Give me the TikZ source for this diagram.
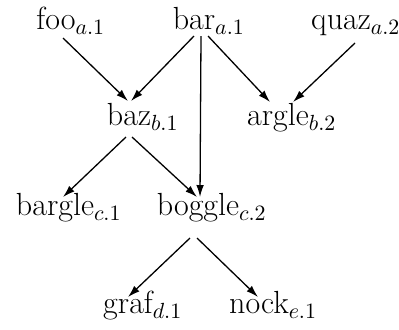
\documentclass[tikz,border=0pt]{standalone}
\usetikzlibrary{arrows.meta}
\begin{document}
% one unit = 0.5pt, y grows downward
\begin{tikzpicture}[x=0.5pt,y=-0.5pt,
  lbl/.style={anchor=base,inner sep=0pt,font=\fontsize{16}{19}\selectfont},
  edge/.style={line width=0.65pt,-{Latex[length=6pt,width=3.8pt]}}]
\useasboundingbox (0,0) rectangle (399,329);
% words are centred on the main text; subscripts hang to the right
\node[lbl] (foo)    at (56,29)   {foo\rlap{$_{a.1}$}};
\node[lbl] (bar)    at (194,29)  {bar\rlap{$_{a.1}$}};
\node[lbl] (quaz)   at (341,29)  {quaz\rlap{$_{a.2}$}};
\node[lbl] (baz)    at (129,125) {baz\rlap{$_{b.1}$}};
\node[lbl] (argle)  at (278,125) {argle\rlap{$_{b.2}$}};
\node[lbl] (bargle) at (55,215)  {bargle\rlap{$_{c.1}$}};
\node[lbl] (boggle) at (198,215) {boggle\rlap{$_{c.2}$}};
\node[lbl] (graf)   at (128,313) {graf\rlap{$_{d.1}$}};
\node[lbl] (nock)   at (259,313) {nock\rlap{$_{e.1}$}};
% dependencies
\draw[edge] ([shift={(7,9)}]foo.base)    -- ([shift={(-1,-24)}]baz.base);
\draw[edge] ([shift={(0,7)}]bar.base)    -- ([shift={(2,-24)}]baz.base);
\draw[edge] ([shift={(7,7)}]bar.base)    -- ([shift={(2,-18)}]boggle.base);
\draw[edge] ([shift={(14,7)}]bar.base)   -- ([shift={(-8,-23)}]argle.base);
\draw[edge] ([shift={(14,14)}]quaz.base) -- ([shift={(15,-23)}]argle.base);
\draw[edge] ([shift={(-3,12)}]baz.base)  -- ([shift={(8,-18)}]bargle.base);
\draw[edge] ([shift={(3,12)}]baz.base)   -- ([shift={(-1,-18)}]boggle.base);
\draw[edge] ([shift={(-8,23)}]boggle.base) -- ([shift={(0,-16)}]graf.base);
\draw[edge] ([shift={(-1,23)}]boggle.base) -- ([shift={(-1,-16)}]nock.base);
\end{tikzpicture}
\end{document}
